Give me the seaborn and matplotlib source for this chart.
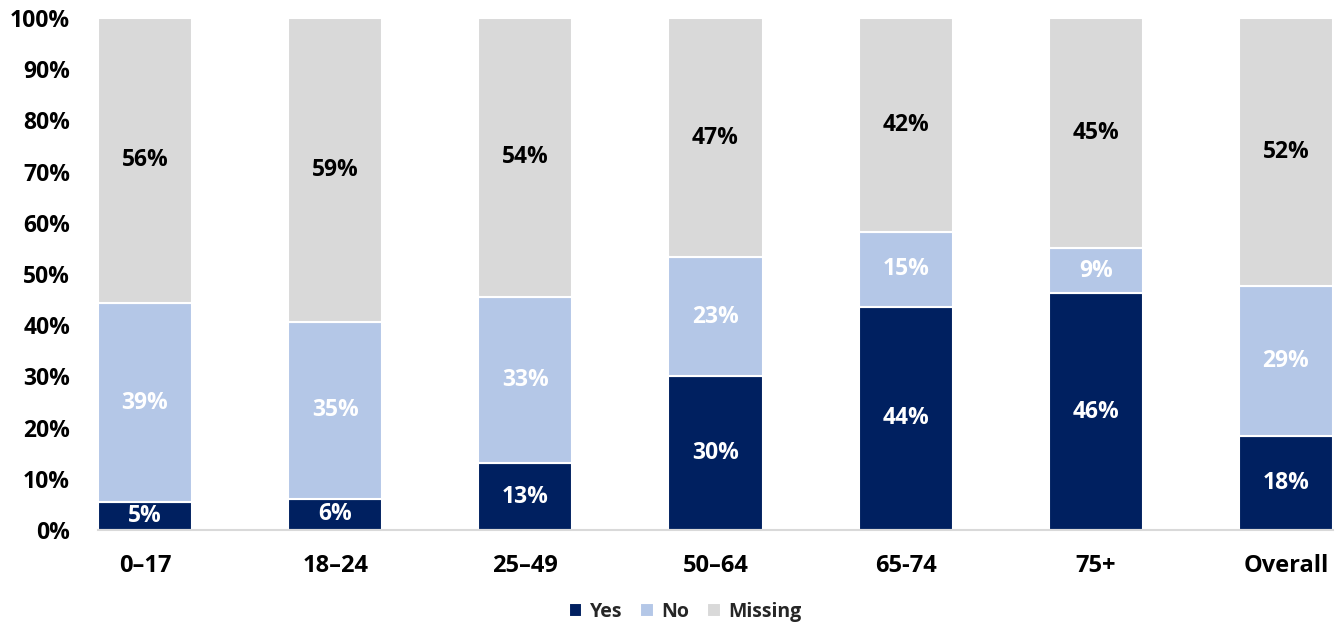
import numpy as np
import matplotlib
matplotlib.use("Agg")
import matplotlib.pyplot as plt
import seaborn as sns

# Age groups and share of respondents (percent) per answer
categories = ["0\u201317", "18\u201324", "25\u201349", "50\u201364", "65-74", "75+", "Overall"]
yes_pct = [5.4, 6.1, 13.0, 30.0, 43.6, 46.2, 18.3]
no_pct = [39.0, 34.6, 32.6, 23.3, 14.7, 8.8, 29.3]
missing_pct = [55.6, 59.3, 54.4, 46.7, 41.7, 45.0, 52.4]
series_names = ["Yes", "No", "Missing"]
y_ticks = list(range(0, 101, 10))

colors = ["#002060", "#B4C7E7", "#D9D9D9"]
label_colors = ["white", "white", "black"]

sns.set_theme(style="white")
plt.rcParams["font.family"] = ["Open Sans", "DejaVu Sans"]
plt.rcParams["font.weight"] = "bold"

fig = plt.figure(figsize=(13.4, 6.27), dpi=100)
ax = fig.add_axes([0.0731, 0.1547, 0.9217, 0.8166])

bottom = np.zeros(len(categories))
for name, vals, col, lcol in zip(series_names, [yes_pct, no_pct, missing_pct], colors, label_colors):
    vals = np.asarray(vals, dtype=float)
    sns.barplot(x=categories, y=vals, bottom=bottom, color=col, width=0.495,
                edgecolor="white", linewidth=1.5, ax=ax, label=name, saturation=1)
    cont = ax.containers[-1]
    ax.bar_label(cont, labels=[f"{v:.0f}%" for v in vals], label_type="center",
                 color=lcol, fontsize=16.5, fontweight="bold")
    bottom = bottom + vals

ax.set_xlim(-0.2475, len(categories) - 1 + 0.2475)
ax.set_ylim(0, 100)
ax.set_yticks(y_ticks)
ax.set_yticklabels([f"{t}%" for t in y_ticks], fontsize=16.5, fontweight="bold", color="black")
ax.set_xticks(range(len(categories)))
ax.set_xticklabels(categories, fontsize=17, fontweight="bold", color="black")
ax.tick_params(axis="x", length=0, pad=17)
ax.tick_params(axis="y", length=0, pad=20)
ax.set_xlabel("")
ax.set_ylabel("")

for s in ["top", "right", "left"]:
    ax.spines[s].set_visible(False)
ax.spines["bottom"].set_color("#D9D9D9")
ax.spines["bottom"].set_linewidth(1.5)
ax.grid(False)

handles = ax.containers[:3]
ax.legend(handles, series_names, loc="center", bbox_to_anchor=(0.5 - 0.0731 / 2 + 0.012, -0.16),
          ncol=3, frameon=False, handlelength=0.7, handleheight=0.7, handletextpad=0.4,
          columnspacing=0.9, prop={"size": 14, "weight": "bold"})

fig.savefig("out.png", dpi=100, facecolor="white")
